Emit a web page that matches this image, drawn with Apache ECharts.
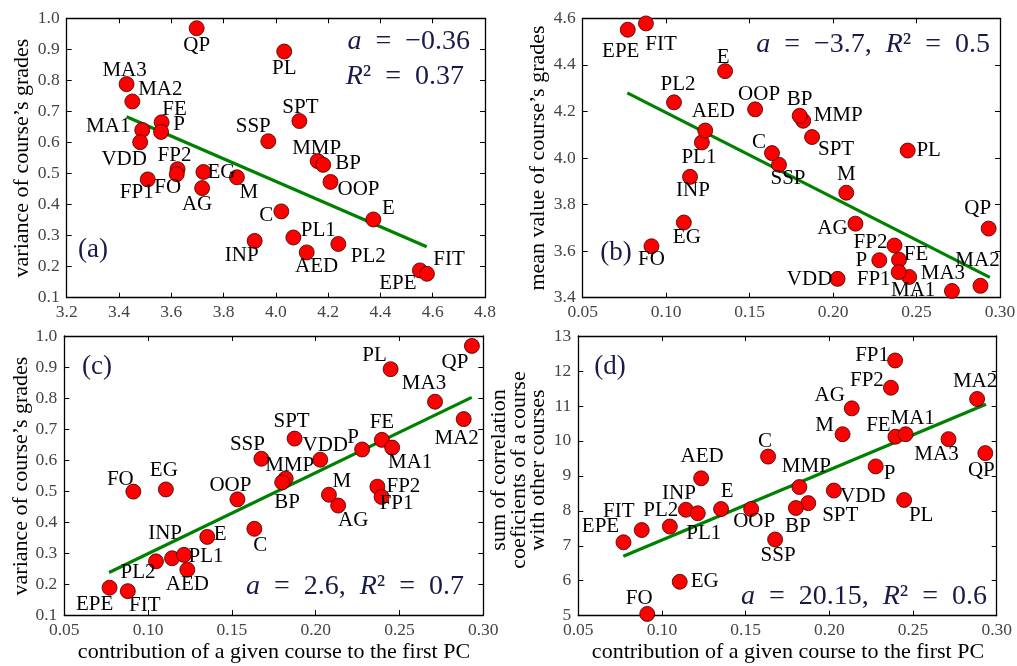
<!DOCTYPE html>
<html><head><meta charset="utf-8">
<script src="https://cdn.jsdelivr.net/npm/echarts@6/dist/echarts.min.js"></script>
<style>html,body{margin:0;padding:0;background:#fff}#c{width:1017px;height:666px}</style>
</head><body><div id="c"></div>
<script>
// ---- data ----
const courses        = ['QP','MA3','MA2','FE','P','MA1','VDD','FP2','FO','FP1','EG','AG','M','INP','PL','SPT','SSP','MMP','BP','OOP','C','E','PL1','AED','PL2','EPE','FIT'];
const meanGrade      = [3.697,3.429,3.451,3.563,3.561,3.489,3.481,3.624,3.621,3.510,3.723,3.718,3.851,3.919,4.032,4.090,3.971,4.160,4.181,4.209,4.021,4.373,4.067,4.118,4.239,4.551,4.578];
const varianceGrade  = [0.968,0.788,0.732,0.665,0.634,0.640,0.601,0.514,0.498,0.481,0.505,0.453,0.488,0.283,0.893,0.669,0.604,0.540,0.528,0.473,0.378,0.352,0.294,0.246,0.273,0.188,0.177];
const pcContribution = [0.2932,0.2712,0.2883,0.2395,0.2277,0.2456,0.2027,0.2368,0.0912,0.2393,0.1106,0.2134,0.2079,0.1143,0.2447,0.1874,0.1676,0.1821,0.1800,0.1533,0.1634,0.1353,0.1214,0.1234,0.1047,0.0770,0.0879];
const corrSum        = [9.65,10.05,11.20,10.12,9.27,10.19,8.58,11.52,5.05,12.30,5.97,10.93,10.19,8.03,8.31,8.22,7.18,8.68,8.08,8.05,9.55,8.05,7.93,8.93,7.55,7.10,7.45];

// fitted lines, end points
const fitA_x = [3.429, 4.577],  fitA_y = [0.683, 0.264];
const fitB_x = [0.0767, 0.2939], fitB_y = [4.280, 3.487];
const fitC_x = [0.0767, 0.2931], fitC_y = [0.237, 0.802];
const fitD_x = [0.0769, 0.2936], fitD_y = [6.70, 11.05];

// annotations
const annA = ['{i|a}\u2002=\u2002\u22120.36', '{i|R}\u00b2\u2002=\u20020.37'];
const annB = '{i|a}\u2002=\u2002\u22123.7,\u2002{i|R}\u00b2\u2002=\u20020.5';
const annC = '{i|a}\u2002=\u20022.6,\u2002{i|R}\u00b2\u2002=\u20020.7';
const annD = '{i|a}\u2002=\u200220.15,\u2002{i|R}\u00b2\u2002=\u20020.6';

// ---- styling / layout (not data) ----
const FONT = '"Liberation Serif","DejaVu Serif",serif';
const labelOffA = {QP:[0,17],MA3:[-2,-14],MA2:[28,-12],FE:[13,-13],P:[18,-7],MA1:[-34,-4],VDD:[-16,17],FP2:[-3,-14],FO:[-9,13],FP1:[-11,13],EG:[18,1],AG:[-5,16],M:[12,15],INP:[-13,15],PL:[0,17],SPT:[1,-14],SSP:[-15,-15],MMP:[-1,-13],BP:[25,-1],OOP:[28,8],C:[-15,4],E:[15,-11],PL1:[25,-7],AED:[10,14],PL2:[30,12],EPE:[-22,13],FIT:[22,-14]};
const labelOffB = {EPE:[-7,22],FIT:[15,21],E:[-2,-14],PL2:[4,-18],OOP:[4,-15],AED:[8,-19],PL1:[-3,15],C:[-13,-11],INP:[3,14],EG:[3,15],FO:[0,13],SSP:[9,14],BP:[0,-16],MMP:[35,-5],SPT:[24,12],PL:[21,0],M:[0,-18],QP:[-11,-20],AG:[-23,5],FP2:[-24,-3],P:[-18,0],FE:[17,-5],FP1:[-25,7],MA1:[4,14],MA3:[-9,-17],MA2:[-3,-25],VDD:[-28,1]};
const labelOffC = {FO:[-13,-12],EG:[-2,-19],OOP:[-7,-14],SSP:[-14,-14],C:[6,17],E:[13,-2],INP:[-7,-25],PL2:[-18,11],PL1:[22,2],AED:[0,15],EPE:[-15,17],FIT:[17,14],QP:[-17,17],PL:[-16,-14],MA3:[-11,-18],MA2:[-7,19],SPT:[-3,-17],FE:[0,-17],MA1:[18,15],P:[-9,-12],VDD:[5,-14],MMP:[4,-13],BP:[5,20],M:[13,-13],AG:[15,15],FP2:[26,0],FP1:[15,7]};
const labelOffD = {EPE:[-23,-16],FIT:[-23,-19],PL2:[-9,-16],INP:[-7,-16],PL1:[6,20],AED:[1,-22],E:[6,-18],OOP:[3,12],C:[-3,-15],EG:[25,0],FO:[-8,-15],FP1:[-23,-5],FP2:[-24,-7],MA2:[-2,-17],AG:[-22,-13],M:[-18,-9],FE:[-17,-11],MA1:[7,-16],MA3:[-12,15],QP:[-4,17],P:[14,7],MMP:[7,-21],VDD:[29,6],SPT:[32,12],BP:[2,18],PL:[17,16],SSP:[3,16]};

const grids = [
  {left:66.7, top:18.3, width:418.3, height:279.4},
  {left:582.7, top:18.3, width:417.3, height:279.4},
  {left:64.3, top:336, width:419, height:279},
  {left:578.3, top:336, width:418.4, height:279.7}
];
const axisDefs = [
  {x:[3.2,4.8,0.2,1], y:[0.1,1.0,0.1,1]},
  {x:[0.05,0.30,0.05,2], y:[3.4,4.6,0.2,1]},
  {x:[0.05,0.30,0.05,2], y:[0.1,1.0,0.1,1]},
  {x:[0.05,0.30,0.05,2], y:[5,13,1,0]}
];

const xAxes = [], yAxes = [];
function baseAxis(gi, r, pos, showLabel, isX) {
  return {
    type:'value', gridIndex:gi, position:pos, min:r[0], max:r[1], interval:r[2],
    axisLine:{show:true, onZero:false, lineStyle:{color:'#000', width:1.3}},
    axisTick:{show:true, inside:true, length:5, lineStyle:{color:'#000', width:1}},
    splitLine:{show:false},
    axisLabel:{show:showLabel, color:'#444', fontFamily:FONT, fontSize:17.5, margin:isX?6:7,
      formatter: v => Number(v).toFixed(r[3])}
  };
}
axisDefs.forEach((d, gi) => {
  xAxes.push(baseAxis(gi, d.x, 'bottom', true, true));
  xAxes.push(baseAxis(gi, d.x, 'top', false, true));
  yAxes.push(baseAxis(gi, d.y, 'left', true, false));
  yAxes.push(baseAxis(gi, d.y, 'right', false, false));
});

function scatterSeries(gi, xs, ys, offs) {
  return {
    type:'scatter', xAxisIndex:gi*2, yAxisIndex:gi*2, z:3,
    symbol:'circle', symbolSize:15,
    itemStyle:{color:'#ff0000', borderColor:'#3a0000', borderWidth:0.8, opacity:1},
    label:{show:true, position:'inside', formatter:'{b}', color:'#000', fontFamily:FONT, fontSize:21},
    emphasis:{disabled:true},
    data: courses.map((c, i) => ({name:c, value:[xs[i], ys[i]], label:{offset:offs[c]}}))
  };
}
function fitSeries(gi, fx, fy) {
  return {
    type:'line', xAxisIndex:gi*2, yAxisIndex:gi*2, z:2, showSymbol:false, symbol:'none',
    lineStyle:{color:'#008000', width:3.2}, emphasis:{disabled:true}, silent:true,
    data: fx.map((x, i) => [x, fy[i]])
  };
}

const series = [
  fitSeries(0, fitA_x, fitA_y), scatterSeries(0, meanGrade, varianceGrade, labelOffA),
  fitSeries(1, fitB_x, fitB_y), scatterSeries(1, pcContribution, meanGrade, labelOffB),
  fitSeries(2, fitC_x, fitC_y), scatterSeries(2, pcContribution, varianceGrade, labelOffC),
  fitSeries(3, fitD_x, fitD_y), scatterSeries(3, pcContribution, corrSum, labelOffD)
];

const ANN = '#1a1a48';
const rich = {i:{fontStyle:'italic', fontFamily:FONT, fontSize:28, fill:ANN, color:ANN}};
function txt(text, x, y, opts) {
  return Object.assign({type:'text', x:x, y:y, z:10, silent:true,
    style:Object.assign({text:text, fill:'#000', font:'22px ' + FONT, textAlign:'center', textVerticalAlign:'middle'}, opts||{})});
}
function ann(text, x, y) {
  return txt(text, x, y, {fill:ANN, font:'28px ' + FONT, textAlign:'right', rich:rich});
}
function rot(text, x, y) {
  const t = txt(text, x, y, {font:'22px ' + FONT});
  t.rotation = Math.PI/2;
  return t;
}
const graphics = [
  ann(annA[0], 470, 42), ann(annA[1], 464, 77),
  ann(annB, 990, 45), ann(annC, 464, 587), ann(annD, 987, 597),
  txt('(a)', 93, 250, {fill:ANN, font:'27px ' + FONT}),
  txt('(b)', 616, 253, {fill:ANN, font:'27px ' + FONT}),
  txt('(c)', 97, 367, {fill:ANN, font:'27px ' + FONT}),
  txt('(d)', 610, 367, {fill:ANN, font:'27px ' + FONT}),
  rot('variance of course\u2019s grades', 22, 158),
  rot('mean value of course\u2019s grades', 538, 158),
  rot('variance of course\u2019s grades', 21, 476),
  rot('sum of correlation', 499, 470),
  rot('coeficients of a course', 519, 470),
  rot('with other courses', 538, 470),
  txt('contribution of a given course to the first PC', 274, 652),
  txt('contribution of a given course to the first PC', 788, 652)
];

const chart = echarts.init(document.getElementById('c'), null, {renderer:'canvas'});
chart.setOption({
  animation:false,
  backgroundColor:'#fff',
  grid: grids.map(g => Object.assign({containLabel:false, outerBoundsMode:'none'}, g)),
  xAxis: xAxes, yAxis: yAxes,
  series: series,
  graphic: graphics
});
</script></body></html>
